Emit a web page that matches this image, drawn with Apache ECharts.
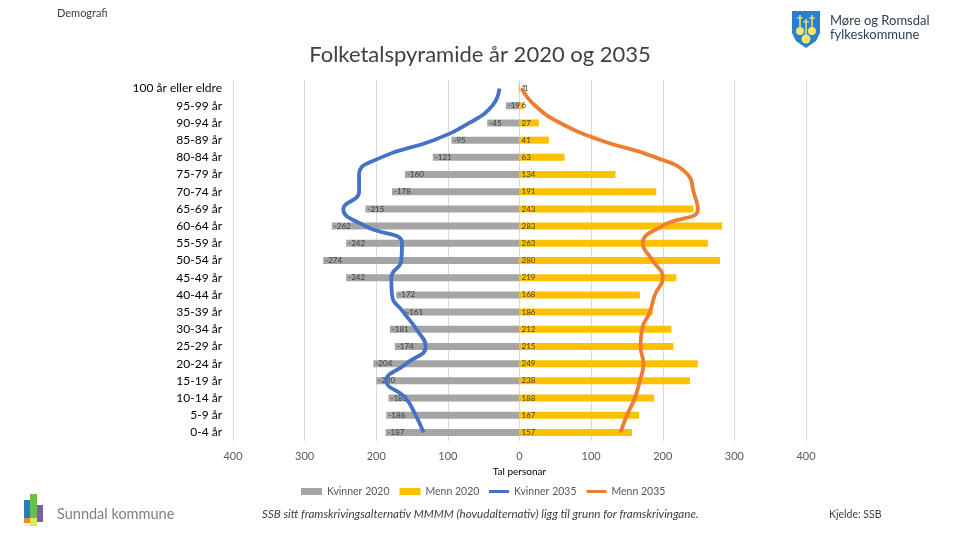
<!DOCTYPE html>
<html>
<head>
<meta charset="utf-8">
<script src="https://cdn.jsdelivr.net/npm/echarts@6/dist/echarts.min.js"></script>
<style>
html,body{margin:0;padding:0;background:#fff;}
#c{width:960px;height:540px;}
</style>
</head>
<body>
<div id="c"></div>
<script>
// Categories, bottom to top
const categories = ["0-4 år","5-9 år","10-14 år","15-19 år","20-24 år","25-29 år","30-34 år","35-39 år","40-44 år","45-49 år","50-54 år","55-59 år","60-64 år","65-69 år","70-74 år","75-79 år","80-84 år","85-89 år","90-94 år","95-99 år","100 år eller eldre"];
const kvinner2020 = [-187,-186,-183,-200,-204,-174,-181,-161,-172,-242,-274,-242,-262,-215,-178,-160,-121,-95,-45,-19,-1];
const menn2020 = [157,167,188,238,249,215,212,186,168,219,280,263,283,243,191,134,63,41,27,6,1];
const kvinner2035 = [-134,-145,-159,-186,-158,-131,-144,-162,-178,-179,-165,-164,-215,-246,-224,-224,-193,-120,-70,-38,-28];
const menn2035 = [141,150,161,168,173,169,171,182,189,200,186,172,199,249,243,235,190,113,57,22,3];
const xTicks = [-400,-300,-200,-100,0,100,200,300,400];

const FONT = "Lato, 'Open Sans', sans-serif";
const chart = echarts.init(document.getElementById('c'), null, {renderer:'canvas'});

const barLabel = {
  show:true, position:'insideLeft', distance:2,
  fontSize:8, color:'#404040', fontFamily:FONT
};
const Y = '#f4e46a';
const legendText = {fontSize:10.5, color:'#595959', fontFamily:FONT};

chart.setOption({
  backgroundColor:'#ffffff',
  animation:false,
  textStyle:{fontFamily:FONT},
  title:{
    text:'Folketalspyramide år 2020 og 2035',
    left:'center', top:39,
    textStyle:{fontSize:22, fontWeight:'normal', color:'#404040', fontFamily:FONT}
  },
  legend:[
    {
      top:486, left:301, padding:0, itemGap:10, itemWidth:21, itemHeight:7,
      textStyle:legendText,
      data:[{name:'Kvinner 2020', icon:'rect'}, {name:'Menn 2020', icon:'rect'}]
    },
    {
      top:486, left:489, padding:0, itemGap:10, itemWidth:20, itemHeight:3,
      textStyle:legendText,
      data:[{name:'Kvinner 2035', icon:'rect'}, {name:'Menn 2035', icon:'rect'}]
    }
  ],
  grid:{left:233, right:154, top:80, bottom:99, containLabel:false},
  xAxis:{
    type:'value', min:xTicks[0], max:xTicks[xTicks.length-1], interval:100,
    name:'Tal personar', nameLocation:'middle', nameGap:25,
    nameTextStyle:{fontSize:10, color:'#000', fontFamily:FONT},
    axisLine:{show:false}, axisTick:{show:false},
    axisLabel:{fontSize:11, color:'#595959', margin:10, fontFamily:FONT,
      formatter:v=>String(Math.abs(v))},
    splitLine:{show:true, lineStyle:{color:'#d9d9d9', width:1}}
  },
  yAxis:{
    type:'category', data:categories, position:'left',
    axisLine:{show:false, onZero:false}, axisTick:{show:false},
    axisLabel:{fontSize:12, color:'#000', margin:11, fontFamily:FONT}
  },
  series:[
    {name:'Kvinner 2020', type:'bar', data:kvinner2020, barWidth:7, barGap:'-100%',
      itemStyle:{color:'#a5a5a5'}, label:barLabel, z:2},
    {name:'Menn 2020', type:'bar', data:menn2020, barWidth:7, barGap:'-100%',
      itemStyle:{color:'#ffc000'}, label:barLabel, z:2},
    {name:'Kvinner 2035', type:'line', data:kvinner2035, smooth:0.5, symbol:'none',
      lineStyle:{color:'#4472c4', width:3.8}, itemStyle:{color:'#4472c4'}, z:5},
    {name:'Menn 2035', type:'line', data:menn2035, smooth:0.5, symbol:'none',
      lineStyle:{color:'#ed7d31', width:3.8}, itemStyle:{color:'#ed7d31'}, z:5}
  ],
  graphic:[
    {type:'text', x:57, y:8, style:{text:'Demografi', fontSize:11, fill:'#404040', fontFamily:FONT}},
    // county shield
    {type:'group', x:792, y:11, children:[
      {type:'polygon', shape:{points:[[0,0],[28,0],[28,22],[24,30],[14,37],[4,30],[0,22]]}, style:{fill:'#2a7fcf'}},
      {type:'circle', shape:{cx:8, cy:20, r:4}, style:{fill:Y}},
      {type:'circle', shape:{cx:20, cy:20, r:4}, style:{fill:Y}},
      {type:'circle', shape:{cx:14, cy:28, r:4.5}, style:{fill:Y}},
      {type:'line', shape:{x1:8, y1:4, x2:8, y2:16}, style:{stroke:Y, lineWidth:1.5}},
      {type:'line', shape:{x1:20, y1:4, x2:20, y2:16}, style:{stroke:Y, lineWidth:1.5}},
      {type:'line', shape:{x1:14, y1:8, x2:14, y2:24}, style:{stroke:Y, lineWidth:1.5}},
      {type:'line', shape:{x1:5, y1:7, x2:11, y2:7}, style:{stroke:Y, lineWidth:1.2}},
      {type:'line', shape:{x1:17, y1:7, x2:23, y2:7}, style:{stroke:Y, lineWidth:1.2}},
      {type:'line', shape:{x1:11, y1:11, x2:17, y2:11}, style:{stroke:Y, lineWidth:1.2}}
    ]},
    {type:'text', x:830, y:14, style:{text:'Møre og Romsdal', fontSize:13, fill:'#2c3e50', fontFamily:FONT}},
    {type:'text', x:830, y:28, style:{text:'fylkeskommune', fontSize:13, fill:'#2c3e50', fontFamily:FONT}},
    // Sunndal logo
    {type:'group', x:24, y:494, children:[
      {type:'rect', shape:{x:0, y:6, width:6, height:22}, style:{fill:'#2b7bc0'}},
      {type:'rect', shape:{x:6, y:0, width:7, height:26}, style:{fill:'#6abf4b'}},
      {type:'rect', shape:{x:13, y:11, width:6, height:17}, style:{fill:'#7b5ea7'}},
      {type:'rect', shape:{x:0, y:24, width:6, height:5}, style:{fill:'#f08a24'}},
      {type:'rect', shape:{x:6, y:24, width:7, height:8}, style:{fill:'#d8e86a'}}
    ]},
    {type:'text', x:57, y:507, style:{text:'Sunndal kommune', fontSize:14.5, fill:'#7f7f7f', fontFamily:FONT}},
    {type:'text', x:262, y:508, style:{text:'SSB sitt framskrivingsalternativ MMMM (hovudalternativ) ligg til grunn for framskrivingane.', fontSize:11.6, fontStyle:'italic', fill:'#404040', fontFamily:FONT}},
    {type:'text', x:829, y:509, style:{text:'Kjelde: SSB', fontSize:10.5, fill:'#404040', fontFamily:FONT}}
  ]
});
</script>
</body>
</html>
